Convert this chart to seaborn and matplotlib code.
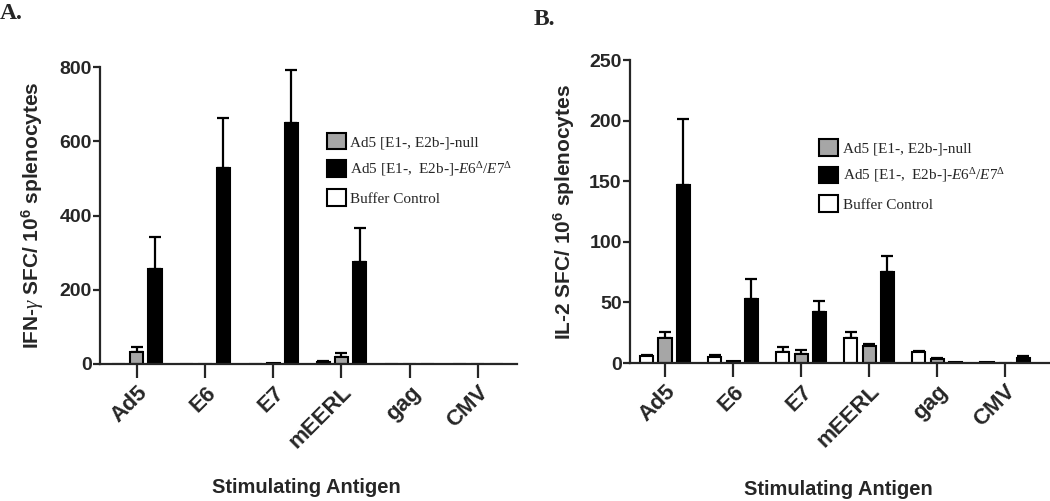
import numpy as np
import pandas as pd
import seaborn as sns
import matplotlib.pyplot as plt

antigens = ["Ad5", "E6", "E7", "mEERL", "gag", "CMV"]
groups = ["Buffer Control", "Ad5 [E1-, E2b-]-null", "E6E7"]
group_colors = ["white", "#a6a6a6", "black"]

# panel A, IFN-gamma (mean, upper error)
ifn_buffer = [0, 0, 0, 6, 0, 0]
ifn_buffer_err = [0, 0, 0, 3, 0, 0]
ifn_null = [33, 0, 3, 18, 0, 0]
ifn_null_err = [14, 0, 0, 12, 0, 0]
ifn_e6e7 = [255, 529, 651, 276, 0, 0]
ifn_e6e7_err = [88, 135, 142, 90, 0, 0]

# panel B, IL-2
il2_buffer = [5.5, 5, 9, 21, 9, 0.5]
il2_buffer_err = [1.5, 2, 4, 5, 1, 0]
il2_null = [21, 1.5, 7.5, 14, 3.5, 0]
il2_null_err = [4.5, 0, 3.5, 1.5, 1, 0]
il2_e6e7 = [147, 53, 42, 75.5, 0.5, 4.5]
il2_e6e7_err = [54, 16, 9, 12.5, 0, 1]

legend_labels = ["Ad5 [E1-, E2b-]-null",
                 r"Ad5 [E1-,  E2b-]-$\mathit{E6}^{\mathit{\Delta}}/\mathit{E7}^{\mathit{\Delta}}$",
                 "Buffer Control"]

sns.set_style("ticks")
plt.rcParams["font.family"] = ["Liberation Sans", "DejaVu Sans"]
plt.rcParams["mathtext.fontset"] = "custom"
plt.rcParams["mathtext.rm"] = "Liberation Serif"
plt.rcParams["mathtext.it"] = "Liberation Serif:italic"
plt.rcParams["mathtext.bf"] = "Liberation Sans:bold"


def long_df(buf, null, e6e7):
    rows = []
    for g, vals in zip(groups, [buf, null, e6e7]):
        for a, v in zip(antigens, vals):
            rows.append((a, g, v))
    return pd.DataFrame(rows, columns=["antigen", "group", "value"])


def panel(ax, df, errs, ymax, ystep, ylabel, xlim, leg_pos, ylab_x):
    sns.barplot(data=df, x="antigen", y="value", hue="group", order=antigens,
                hue_order=groups, palette=group_colors, width=0.8, gap=0.28,
                edgecolor="black", linewidth=1.5, errorbar=None, ax=ax)
    for cont, err in zip(ax.containers, errs):
        for p, e in zip(cont, err):
            if e <= 0:
                continue
            x = p.get_x() + p.get_width() / 2
            ax.errorbar([x], [p.get_height()], yerr=[[0], [e]], fmt="none",
                        ecolor="black", elinewidth=1.6, capsize=4, capthick=1.6,
                        zorder=0.9)
    ax.set_ylim(0, ymax)
    ax.set_xlim(*xlim)
    ax.set_yticks(np.arange(0, ymax + 1, ystep))
    sns.despine(ax=ax)
    for s in ["left", "bottom"]:
        ax.spines[s].set_linewidth(1.6)
    ax.tick_params(axis="y", length=5, width=1.6, pad=1, labelsize=14)
    ax.tick_params(axis="x", length=10, width=1.6, pad=3, labelsize=16)
    for t in ax.get_yticklabels() + ax.get_xticklabels():
        t.set_fontweight("bold")
    plt.setp(ax.get_xticklabels(), rotation=45, ha="right", rotation_mode="anchor")
    ax.set_ylabel(ylabel, fontsize=15, fontweight="bold")
    ax.yaxis.set_label_coords(ylab_x, 0.5)
    ax.set_xlabel("Stimulating Antigen", fontsize=14.5, fontweight="bold")
    ax.xaxis.set_label_coords(0.495, -0.385)

    handles, _ = ax.get_legend_handles_labels()
    handles = [handles[1], handles[2], handles[0]]
    ax.legend(handles, legend_labels, loc="upper left", bbox_to_anchor=leg_pos,
              frameon=False, borderpad=0, borderaxespad=0, handlelength=1.25,
              handleheight=1.3, handletextpad=0.3, labelspacing=0.72,
              prop={"family": "Liberation Serif", "size": 11})


fig = plt.figure(figsize=(10.5, 5.01), dpi=100)
axA = fig.add_axes([0.0952, 0.2735, 0.397, 0.5922])
axB = fig.add_axes([0.6, 0.2754, 0.4, 0.6046])

panel(axA, long_df(ifn_buffer, ifn_null, ifn_e6e7),
      [ifn_buffer_err, ifn_null_err, ifn_e6e7_err], 800, 200,
      r"IFN-$\mathit{\gamma}$ SFC/ 10$^{\mathbf{6}}$ splenocytes",
      (-0.54, 5.57), (0.544, 0.78), -0.13)
panel(axB, long_df(il2_buffer, il2_null, il2_e6e7),
      [il2_buffer_err, il2_null_err, il2_e6e7_err], 250, 50,
      r"IL-2 SFC/ 10$^{\mathbf{6}}$ splenocytes",
      (-0.515, 5.66), (0.45, 0.74), -0.127)

fig.text(0.0, 0.995, "A.", family="Liberation Serif", fontweight="bold",
         fontsize=17, va="top", ha="left")
fig.text(0.508, 0.982, "B.", family="Liberation Serif", fontweight="bold",
         fontsize=17, va="top", ha="left")

fig.savefig("out.png", dpi=100)
